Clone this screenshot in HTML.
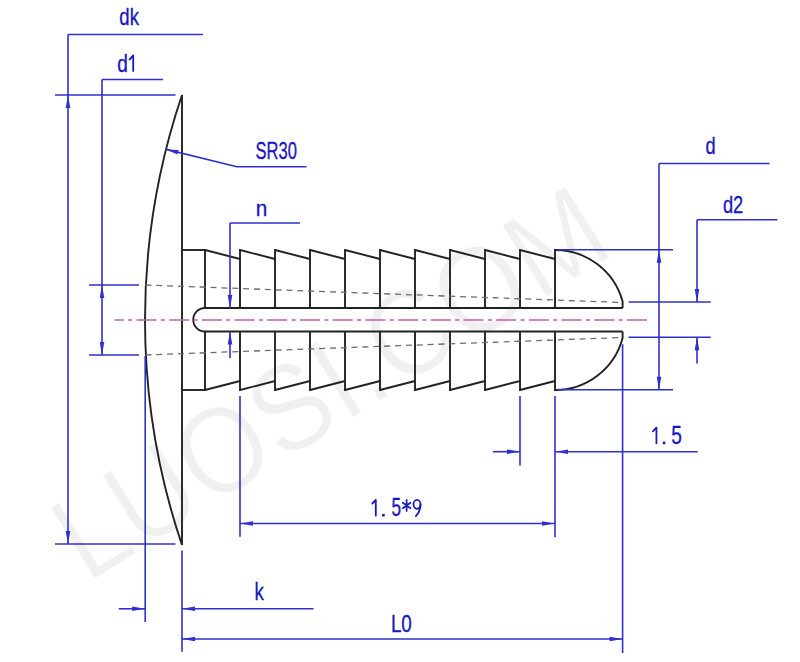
<!DOCTYPE html>
<html><head><meta charset="utf-8"><style>
html,body{margin:0;padding:0;background:#fff;}
svg{display:block;font-family:"Liberation Sans",sans-serif;}
</style></head><body>
<svg width="800" height="662" viewBox="0 0 800 662">
<rect width="800" height="662" fill="#fff"/>
<text x="0" y="0" font-size="111.5" fill="#f0f0f0" stroke="#fff" stroke-width="1.4" transform="translate(87,584) rotate(-32) scale(1,1.1)">LUOSI.COM</text>
<line x1="182" y1="95" x2="182" y2="545" stroke="#222" stroke-width="1.9" />
<path d="M182,95 A702.6,702.6 0 0 0 182,545" stroke="#222" stroke-width="1.9" fill="none"/>
<line x1="182" y1="250" x2="205" y2="250" stroke="#222" stroke-width="1.9" />
<line x1="182" y1="390" x2="205" y2="390" stroke="#222" stroke-width="1.9" />
<line x1="205" y1="249.1" x2="205" y2="308" stroke="#222" stroke-width="1.9" />
<line x1="205" y1="331.5" x2="205" y2="390.9" stroke="#222" stroke-width="1.9" />
<line x1="240" y1="249.1" x2="240" y2="308" stroke="#222" stroke-width="1.9" />
<line x1="240" y1="331.5" x2="240" y2="390.9" stroke="#222" stroke-width="1.9" />
<line x1="275" y1="249.1" x2="275" y2="308" stroke="#222" stroke-width="1.9" />
<line x1="275" y1="331.5" x2="275" y2="390.9" stroke="#222" stroke-width="1.9" />
<line x1="310" y1="249.1" x2="310" y2="308" stroke="#222" stroke-width="1.9" />
<line x1="310" y1="331.5" x2="310" y2="390.9" stroke="#222" stroke-width="1.9" />
<line x1="345" y1="249.1" x2="345" y2="308" stroke="#222" stroke-width="1.9" />
<line x1="345" y1="331.5" x2="345" y2="390.9" stroke="#222" stroke-width="1.9" />
<line x1="380" y1="249.1" x2="380" y2="308" stroke="#222" stroke-width="1.9" />
<line x1="380" y1="331.5" x2="380" y2="390.9" stroke="#222" stroke-width="1.9" />
<line x1="415" y1="249.1" x2="415" y2="308" stroke="#222" stroke-width="1.9" />
<line x1="415" y1="331.5" x2="415" y2="390.9" stroke="#222" stroke-width="1.9" />
<line x1="450" y1="249.1" x2="450" y2="308" stroke="#222" stroke-width="1.9" />
<line x1="450" y1="331.5" x2="450" y2="390.9" stroke="#222" stroke-width="1.9" />
<line x1="485" y1="249.1" x2="485" y2="308" stroke="#222" stroke-width="1.9" />
<line x1="485" y1="331.5" x2="485" y2="390.9" stroke="#222" stroke-width="1.9" />
<line x1="520" y1="249.1" x2="520" y2="308" stroke="#222" stroke-width="1.9" />
<line x1="520" y1="331.5" x2="520" y2="390.9" stroke="#222" stroke-width="1.9" />
<line x1="555" y1="249.1" x2="555" y2="308" stroke="#222" stroke-width="1.9" />
<line x1="555" y1="331.5" x2="555" y2="390.9" stroke="#222" stroke-width="1.9" />
<line x1="205" y1="250" x2="240" y2="259" stroke="#222" stroke-width="1.9" />
<line x1="205" y1="390" x2="240" y2="381" stroke="#222" stroke-width="1.9" />
<line x1="240" y1="250" x2="275" y2="259" stroke="#222" stroke-width="1.9" />
<line x1="240" y1="390" x2="275" y2="381" stroke="#222" stroke-width="1.9" />
<line x1="275" y1="250" x2="310" y2="259" stroke="#222" stroke-width="1.9" />
<line x1="275" y1="390" x2="310" y2="381" stroke="#222" stroke-width="1.9" />
<line x1="310" y1="250" x2="345" y2="259" stroke="#222" stroke-width="1.9" />
<line x1="310" y1="390" x2="345" y2="381" stroke="#222" stroke-width="1.9" />
<line x1="345" y1="250" x2="380" y2="259" stroke="#222" stroke-width="1.9" />
<line x1="345" y1="390" x2="380" y2="381" stroke="#222" stroke-width="1.9" />
<line x1="380" y1="250" x2="415" y2="259" stroke="#222" stroke-width="1.9" />
<line x1="380" y1="390" x2="415" y2="381" stroke="#222" stroke-width="1.9" />
<line x1="415" y1="250" x2="450" y2="259" stroke="#222" stroke-width="1.9" />
<line x1="415" y1="390" x2="450" y2="381" stroke="#222" stroke-width="1.9" />
<line x1="450" y1="250" x2="485" y2="259" stroke="#222" stroke-width="1.9" />
<line x1="450" y1="390" x2="485" y2="381" stroke="#222" stroke-width="1.9" />
<line x1="485" y1="250" x2="520" y2="259" stroke="#222" stroke-width="1.9" />
<line x1="485" y1="390" x2="520" y2="381" stroke="#222" stroke-width="1.9" />
<line x1="520" y1="250" x2="555" y2="259" stroke="#222" stroke-width="1.9" />
<line x1="520" y1="390" x2="555" y2="381" stroke="#222" stroke-width="1.9" />
<line x1="205" y1="308" x2="622.6" y2="308" stroke="#222" stroke-width="1.9" />
<line x1="205" y1="331.5" x2="622.6" y2="331.5" stroke="#222" stroke-width="1.9" />
<path d="M205,308 A11.75,11.75 0 0 0 205,331.5" stroke="#222" stroke-width="1.9" fill="none"/>
<path d="M555,250 A70,70 0 0 1 622.6,301.58 L622.6,308" stroke="#222" stroke-width="1.9" fill="none"/>
<path d="M622.6,331.5 L622.6,337.92 A70,70 0 0 1 555,390" stroke="#222" stroke-width="1.9" fill="none"/>
<line x1="144.5" y1="285" x2="622.5" y2="302.5" stroke="#6c6c6c" stroke-width="1.3" stroke-dasharray="6 4.86" stroke-dashoffset="-0.9"/>
<line x1="144.5" y1="355" x2="622.5" y2="337.5" stroke="#6c6c6c" stroke-width="1.3" stroke-dasharray="6 4.86" stroke-dashoffset="-0.9"/>
<line x1="114.5" y1="320" x2="648" y2="320" stroke="#c85aaa" stroke-width="1.6" stroke-dasharray="20 4.35 4 4.35" stroke-dashoffset="10.7"/>
<line x1="68" y1="34.5" x2="68" y2="544" stroke="#3030cc" stroke-width="1.6" />
<line x1="68" y1="34.5" x2="203" y2="34.5" stroke="#3030cc" stroke-width="1.6" />
<line x1="55" y1="95" x2="175.5" y2="95" stroke="#3030cc" stroke-width="1.6" />
<line x1="55" y1="544" x2="175.5" y2="544" stroke="#3030cc" stroke-width="1.6" />
<polygon points="68,95 65.7,108 70.3,108" fill="#3030cc"/>
<polygon points="68,544 65.7,531 70.3,531" fill="#3030cc"/>
<text x="0" y="0" font-size="24" fill="#1818c0" stroke="#1818c0" stroke-width="0.343" transform="matrix(0.7708,0,0,0.9801,119.35,25.05)">dk</text>
<line x1="102" y1="79.5" x2="102" y2="355" stroke="#3030cc" stroke-width="1.6" />
<line x1="102" y1="79.5" x2="163" y2="79.5" stroke="#3030cc" stroke-width="1.6" />
<line x1="89" y1="285" x2="139" y2="285" stroke="#3030cc" stroke-width="1.6" />
<line x1="89" y1="355" x2="139" y2="355" stroke="#3030cc" stroke-width="1.6" />
<polygon points="102,285 99.7,298 104.3,298" fill="#3030cc"/>
<polygon points="102,355 99.7,342 104.3,342" fill="#3030cc"/>
<text x="0" y="0" font-size="24" fill="#1818c0" stroke="#1818c0" stroke-width="0.340" transform="matrix(0.7963,0,0,0.9659,117.25,71.56)">d</text>
<path d="M129.5,59.6 L133.2,55.4 L133.2,71.0" stroke="#1818c0" stroke-width="1.8" fill="none" stroke-linecap="round" stroke-linejoin="round"/>
<polyline points="166.3,149.4 236.8,166.8 306.5,166.8" stroke="#3030cc" stroke-width="1.6" fill="none"/>
<polygon points="166.3,149.4 177.38,154.61 178.53,149.95" fill="#3030cc"/>
<text x="0" y="0" font-size="24" fill="#1818c0" stroke="#1818c0" stroke-width="0.353" transform="matrix(0.6879,0,0,1.0118,255.59,159.35)">SR30</text>
<line x1="230" y1="223" x2="230" y2="308" stroke="#3030cc" stroke-width="1.6" />
<line x1="230" y1="223" x2="300" y2="223" stroke="#3030cc" stroke-width="1.6" />
<polygon points="230,308 227.7,295 232.3,295" fill="#3030cc"/>
<line x1="230" y1="331.5" x2="230" y2="358" stroke="#3030cc" stroke-width="1.6" />
<polygon points="230,331.5 227.7,344.5 232.3,344.5" fill="#3030cc"/>
<text x="0" y="0" font-size="24" fill="#1818c0" stroke="#1818c0" stroke-width="0.336" transform="matrix(0.8627,0,0,0.9225,255.77,216.15)">n</text>
<line x1="659" y1="163.5" x2="659" y2="389.7" stroke="#3030cc" stroke-width="1.6" />
<line x1="659" y1="163.5" x2="769.6" y2="163.5" stroke="#3030cc" stroke-width="1.6" />
<line x1="557" y1="249.8" x2="673" y2="249.8" stroke="#3030cc" stroke-width="1.6" />
<line x1="557" y1="389.7" x2="673" y2="389.7" stroke="#3030cc" stroke-width="1.6" />
<polygon points="659,249.8 656.7,262.8 661.3,262.8" fill="#3030cc"/>
<polygon points="659,389.7 656.7,376.7 661.3,376.7" fill="#3030cc"/>
<text x="0" y="0" font-size="24" fill="#1818c0" stroke="#1818c0" stroke-width="0.346" transform="matrix(0.7593,0,0,0.9773,705.39,154.25)">d</text>
<line x1="697" y1="219.7" x2="697" y2="302" stroke="#3030cc" stroke-width="1.6" />
<line x1="697" y1="219.7" x2="777.4" y2="219.7" stroke="#3030cc" stroke-width="1.6" />
<line x1="628.6" y1="302" x2="710.8" y2="302" stroke="#3030cc" stroke-width="1.6" />
<line x1="628.6" y1="337.3" x2="710.8" y2="337.3" stroke="#3030cc" stroke-width="1.6" />
<polygon points="697,302 694.7,289 699.3,289" fill="#3030cc"/>
<line x1="697" y1="337.3" x2="697" y2="363.5" stroke="#3030cc" stroke-width="1.6" />
<polygon points="697,337.3 694.7,350.3 699.3,350.3" fill="#3030cc"/>
<text x="0" y="0" font-size="24" fill="#1818c0" stroke="#1818c0" stroke-width="0.341" transform="matrix(0.7633,0,0,0.9943,722.89,212.75)">d2</text>
<line x1="520" y1="396" x2="520" y2="465.6" stroke="#3030cc" stroke-width="1.6" />
<line x1="555" y1="396" x2="555" y2="537.3" stroke="#3030cc" stroke-width="1.6" />
<line x1="492.8" y1="451.7" x2="520" y2="451.7" stroke="#3030cc" stroke-width="1.6" />
<polygon points="520,451.7 507,449.4 507,454.0" fill="#3030cc"/>
<line x1="555" y1="451.7" x2="697.7" y2="451.7" stroke="#3030cc" stroke-width="1.6" />
<polygon points="555,451.7 568,449.4 568,454.0" fill="#3030cc"/>
<path d="M652.9,431.4 L656.45,427.59999999999997 L656.45,443.3" stroke="#1818c0" stroke-width="1.8" fill="none" stroke-linecap="round" stroke-linejoin="round"/>
<rect x="662.8000000000001" y="441.59999999999997" width="2.6" height="2.6" fill="#1818c0"/>
<text x="0" y="0" font-size="24" fill="#1818c0" stroke="#1818c0" stroke-width="0.326" transform="matrix(0.7965,0,0,1.0419,671.35,443.94)">5</text>
<line x1="240" y1="396" x2="240" y2="536.8" stroke="#3030cc" stroke-width="1.6" />
<line x1="240" y1="523.5" x2="555" y2="523.5" stroke="#3030cc" stroke-width="1.6" />
<polygon points="240,523.5 253,521.2 253,525.8" fill="#3030cc"/>
<polygon points="555,523.5 542,521.2 542,525.8" fill="#3030cc"/>
<path d="M372.4,503.5 L375.8,500.0 L375.8,515.5" stroke="#1818c0" stroke-width="1.8" fill="none" stroke-linecap="round" stroke-linejoin="round"/>
<rect x="382.09999999999997" y="513.9000000000001" width="2.6" height="2.6" fill="#1818c0"/>
<text x="0" y="0" font-size="24" fill="#1818c0" stroke="#1818c0" stroke-width="0.339" transform="matrix(0.7168,0,0,1.0539,391.53,516.44)">5</text>
<path d="M406.65,499.95000000000005 L406.65,510.95000000000005 M402.84999999999997,502.70000000000005 L410.45,508.20000000000005 M402.84999999999997,508.20000000000005 L410.45,502.70000000000005" stroke="#1818c0" stroke-width="1.7" fill="none" stroke-linecap="round"/>
<ellipse cx="417.0" cy="504.37" rx="3.4999999999999774" ry="4.470000000000004" stroke="#1818c0" stroke-width="1.8" fill="none"/>
<path d="M420.5,504.37 Q420.5,511.522 415.95,516.0" stroke="#1818c0" stroke-width="1.8" fill="none" stroke-linecap="round"/>
<line x1="622.6" y1="344.3" x2="622.6" y2="652.9" stroke="#3030cc" stroke-width="1.6" />
<line x1="182" y1="550.4" x2="182" y2="651.8" stroke="#3030cc" stroke-width="1.6" />
<line x1="182" y1="639" x2="622.6" y2="639" stroke="#3030cc" stroke-width="1.6" />
<polygon points="182,639 195,636.7 195,641.3" fill="#3030cc"/>
<polygon points="622.6,639 609.6,636.7 609.6,641.3" fill="#3030cc"/>
<text x="0" y="0" font-size="24" fill="#1818c0" stroke="#1818c0" stroke-width="0.331" transform="matrix(0.7857,0,0,1.0294,390.88,631.84)">L0</text>
<line x1="145.2" y1="356" x2="145.2" y2="622" stroke="#3030cc" stroke-width="1.6" />
<line x1="118.8" y1="608.8" x2="145.2" y2="608.8" stroke="#3030cc" stroke-width="1.6" />
<polygon points="145.2,608.8 132.2,606.5 132.2,611.0999999999999" fill="#3030cc"/>
<line x1="182" y1="608.8" x2="313.5" y2="608.8" stroke="#3030cc" stroke-width="1.6" />
<polygon points="182,608.8 195,606.5 195,611.0999999999999" fill="#3030cc"/>
<text x="0" y="0" font-size="24" fill="#1818c0" stroke="#1818c0" stroke-width="0.335" transform="matrix(0.7788,0,0,1.0115,254.50,599.55)">k</text>
</svg></body></html>
